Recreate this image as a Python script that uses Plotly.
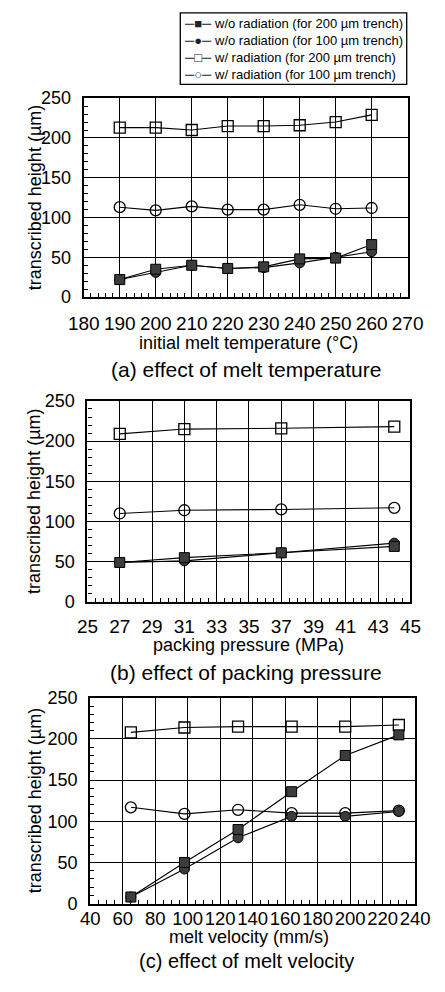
import plotly.graph_objects as go

W, H = 445, 992

# ---------------- data ----------------
temp_x = [190, 200, 210, 220, 230, 240, 250, 260]
temp_wo200 = [22, 35, 40, 36, 38, 48, 49, 66]
temp_wo100 = [22, 31, 40, 36, 37, 43, 50, 57]
temp_w200 = [213, 213, 210, 215, 215, 216, 220, 229]
temp_w100 = [113, 109, 114, 110, 110, 116, 111, 112]

press_x = [27, 31, 37, 44]
press_wo200 = [49, 55, 61, 69]
press_wo100 = [49, 51, 61, 73]
press_w200 = [209, 215, 216, 218]
press_w100 = [110, 114, 115, 117]

vel_x = [65, 98, 131, 164, 197, 230]
vel_wo200 = [8, 50, 90, 136, 180, 205]
vel_wo100 = [8, 42, 80, 106, 106, 112]
vel_w200 = [208, 214, 215, 215, 215, 217]
vel_w100 = [117, 109, 114, 110, 110, 113]

series_names = [
    "w/o radiation (for 200 \u00b5m trench)",
    "w/o radiation (for 100 \u00b5m trench)",
    "w/ radiation (for 200 \u00b5m trench)",
    "w/ radiation (for 100 \u00b5m trench)",
]
legend_keys = ["\u2500\u25A0\u2500", "\u2500\u25CF\u2500", "\u2500\u25A1\u2500", "\u2500\u25CB\u2500"]
x_titles = ["initial melt temperature (\u00b0C)", "packing pressure (MPa)", "melt velocity (mm/s)"]
captions = ["(a) effect of melt temperature", "(b) effect of packing pressure", "(c) effect of melt velocity"]
y_title = "transcribed height (\u00b5m)"

FONT = "Liberation Sans, Arial, Helvetica, sans-serif"

# panel boxes in pixels: (left, right, top, bottom)
boxes = [(73, 422, 90, 293), (77, 425, 399, 604), (80, 430, 702, 912)]
tick_standoff = [8, 6, -3]
tick_size = [19, 19, 18.5]
title_off = [47, 44, 34]
caption_off = [74, 72, 59]
caption_size = [21, 21, 20]
xranges = [[180, 270], [25, 45], [40, 240]]
xdticks = [10, 2, 20]
xminor = [2, 0.5, 5]

panels = [
    (temp_x, temp_wo200, temp_wo100, temp_w200, temp_w100),
    (press_x, press_wo200, press_wo100, press_w200, press_w100),
    (vel_x, vel_wo200, vel_wo100, vel_w200, vel_w100),
]

styles = [
    dict(symbol="square", color="#3c3c3c", line=dict(color="black", width=1), size=10),
    dict(symbol="circle", color="#3c3c3c", line=dict(color="black", width=1), size=10),
    dict(symbol="square-open", color="black", line=dict(color="black", width=1.3), size=11),
    dict(symbol="circle-open", color="black", line=dict(color="black", width=1.3), size=11),
]

fig = go.Figure()
draw_order = [2, 3, 1, 0]
for p, data in enumerate(panels):
    xs = data[0]
    ys = data[1:]
    xa = "x" if p == 0 else f"x{p+1}"
    ya = "y" if p == 0 else f"y{p+1}"
    for k in draw_order:
        fig.add_trace(go.Scatter(
            x=xs, y=ys[k], mode="lines+markers", name=series_names[k],
            xaxis=xa, yaxis=ya,
            line=dict(color="black", width=1.1),
            marker=styles[k], showlegend=False,
        ))

layout = dict(
    width=W, height=H, margin=dict(l=0, r=0, t=0, b=0),
    paper_bgcolor="white", plot_bgcolor="white",
    font=dict(family=FONT, color="black", size=16),
    showlegend=False,
)
annotations = []
shapes = []
for p, (l, r, t, b) in enumerate(boxes):
    xk = "xaxis" if p == 0 else f"xaxis{p+1}"
    yk = "yaxis" if p == 0 else f"yaxis{p+1}"
    ya_ref = "y" if p == 0 else f"y{p+1}"
    xa_ref = "x" if p == 0 else f"x{p+1}"
    layout[xk] = dict(
        domain=[l / W, r / W], anchor=ya_ref, range=xranges[p],
        dtick=xdticks[p], tick0=xranges[p][0], tickangle=0,
        showgrid=True, gridcolor="black", gridwidth=1,
        showline=True, linecolor="black", linewidth=2.2, mirror=True,
        ticks="", zeroline=False,
        tickfont=dict(size=tick_size[p], family=FONT), ticklabelstandoff=tick_standoff[p],
        minor=dict(ticks="inside", ticklen=4, tickcolor="black", dtick=xminor[p], showgrid=False),
        fixedrange=True,
    )
    layout[yk] = dict(
        domain=[1 - b / H, 1 - t / H], anchor=xa_ref, range=[0, 250],
        dtick=50, showgrid=True, gridcolor="black", gridwidth=1,
        showline=True, linecolor="black", linewidth=2.2, mirror=True,
        ticks="", zeroline=False,
        tickfont=dict(size=18, family=FONT), ticklabelstandoff=7,
        minor=dict(ticks="inside", ticklen=4, tickcolor="black", dtick=10, showgrid=False),
        fixedrange=True,
    )
    annotations.append(dict(
        text=y_title, xref="paper", yref="paper", x=20 / W, y=1 - (t + b) / 2 / H,
        textangle=-90, showarrow=False, xanchor="center", yanchor="middle",
        font=dict(size=18, family=FONT),
    ))
    annotations.append(dict(
        text=x_titles[p], xref="paper", yref="paper", x=251 / W, y=1 - (b + title_off[p]) / H,
        showarrow=False, xanchor="center", yanchor="middle",
        font=dict(size=18, family=FONT),
    ))
    annotations.append(dict(
        text=captions[p], xref="paper", yref="paper", x=248 / W, y=1 - (b + caption_off[p]) / H,
        showarrow=False, xanchor="center", yanchor="middle",
        font=dict(size=caption_size[p], family=FONT),
    ))

# legend drawn as a framed text block at the top right
leg_center = 39.5
annotations.append(dict(
    text="<br>".join(legend_keys), xref="paper", yref="paper", x=196 / W, y=1 - leg_center / H,
    showarrow=False, xanchor="center", yanchor="middle", align="center", borderpad=0,
    font=dict(size=13, family=FONT, color="#222222"),
))
annotations.append(dict(
    text="<br>".join(series_names), xref="paper", yref="paper", x=212 / W, y=1 - leg_center / H,
    showarrow=False, xanchor="left", yanchor="middle", align="left", borderpad=0,
    font=dict(size=13, family=FONT),
))
shapes.append(dict(
    type="rect", xref="paper", yref="paper",
    x0=177 / W, x1=421 / W, y0=1 - 76 / H, y1=1 - 3 / H,
    line=dict(color="black", width=1.3), fillcolor="rgba(0,0,0,0)",
))

layout["annotations"] = annotations
layout["shapes"] = shapes
fig.update_layout(**layout)
fig.write_html("out.html")
